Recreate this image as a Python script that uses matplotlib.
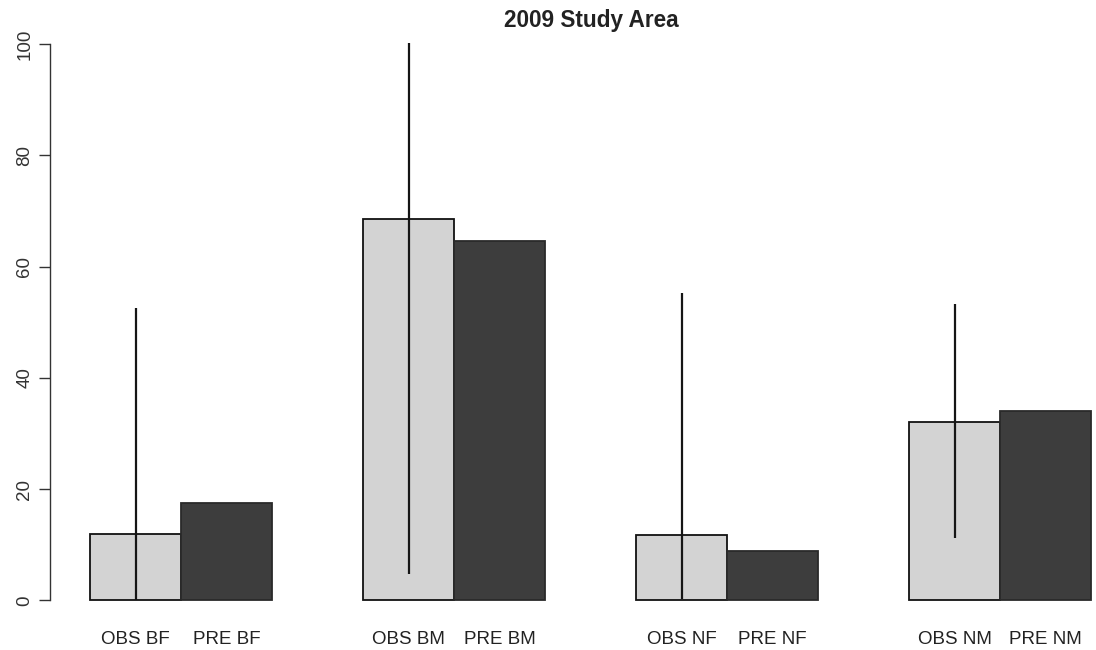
import matplotlib
matplotlib.use("Agg")
import matplotlib.pyplot as plt

plt.rcParams['font.family'] = ['Liberation Sans', 'DejaVu Sans']

# ---- data ----
title = "2009 Study Area"
labels = ["OBS BF", "PRE BF", "OBS BM", "PRE BM", "OBS NF", "PRE NF", "OBS NM", "PRE NM"]
values = [12.0, 17.5, 68.5, 64.6, 11.8, 8.9, 32.0, 34.0]
# error ranges on OBS bars (low, high)
err_low = [0.0, 4.7, 0.3, 11.2]
err_high = [52.5, 100.3, 55.2, 53.3]
yticks = [0, 20, 40, 60, 80, 100]

obs_color = "#d3d3d3"
pre_color = "#3d3d3d"

W, H = 1096, 650
fig = plt.figure(figsize=(W / 100, H / 100), dpi=100)
left_px, right_px = 50, 1096
top_px, bot_px = 22.0, 622.7
ax = fig.add_axes([left_px / W, (H - bot_px) / H, (right_px - left_px) / W, (bot_px - top_px) / H])

# bar positions (R barplot, beside with space=c(0,1))
lefts = []
for g in range(4):
    lefts += [g * 3, g * 3 + 1]
colors = [obs_color, pre_color] * 4
edges = ["#111111", "#2a2a2a"] * 4
ax.bar(lefts, values, width=1.0, align="edge", color=colors, edgecolor=edges, linewidth=1.3, zorder=2)

# error lines through OBS bars
obs_centers = [g * 3 + 0.5 for g in range(4)]
ax.vlines(obs_centers, err_low, err_high, color="#151515", linewidth=1.6, zorder=3)

ax.set_xlim(-0.44, (right_px - 90) / 91.0)
ax.set_ylim(-4, 104)

for s in ["top", "right", "bottom"]:
    ax.spines[s].set_visible(False)
ax.spines["left"].set_bounds(0, 100)
ax.spines["left"].set_color("#333333")
ax.spines["left"].set_linewidth(1.0)

ax.set_yticks(yticks)
ax.set_yticklabels([str(v) for v in yticks], rotation=90, va="center", fontsize=13.5, color="#333333")
ax.tick_params(axis="y", length=8, width=1.0, color="#333333", pad=4)

ax.set_xticks([l + 0.5 for l in lefts])
ax.set_xticklabels(labels, fontsize=13.5, color="#222222")
ax.tick_params(axis="x", length=0, pad=6)

fig.text(591 / W, 1 - 20 / H, title, fontsize=16.3, fontweight="bold", color="#222222",
         ha="center", va="center")

fig.savefig("out.png", dpi=100, facecolor="white")
